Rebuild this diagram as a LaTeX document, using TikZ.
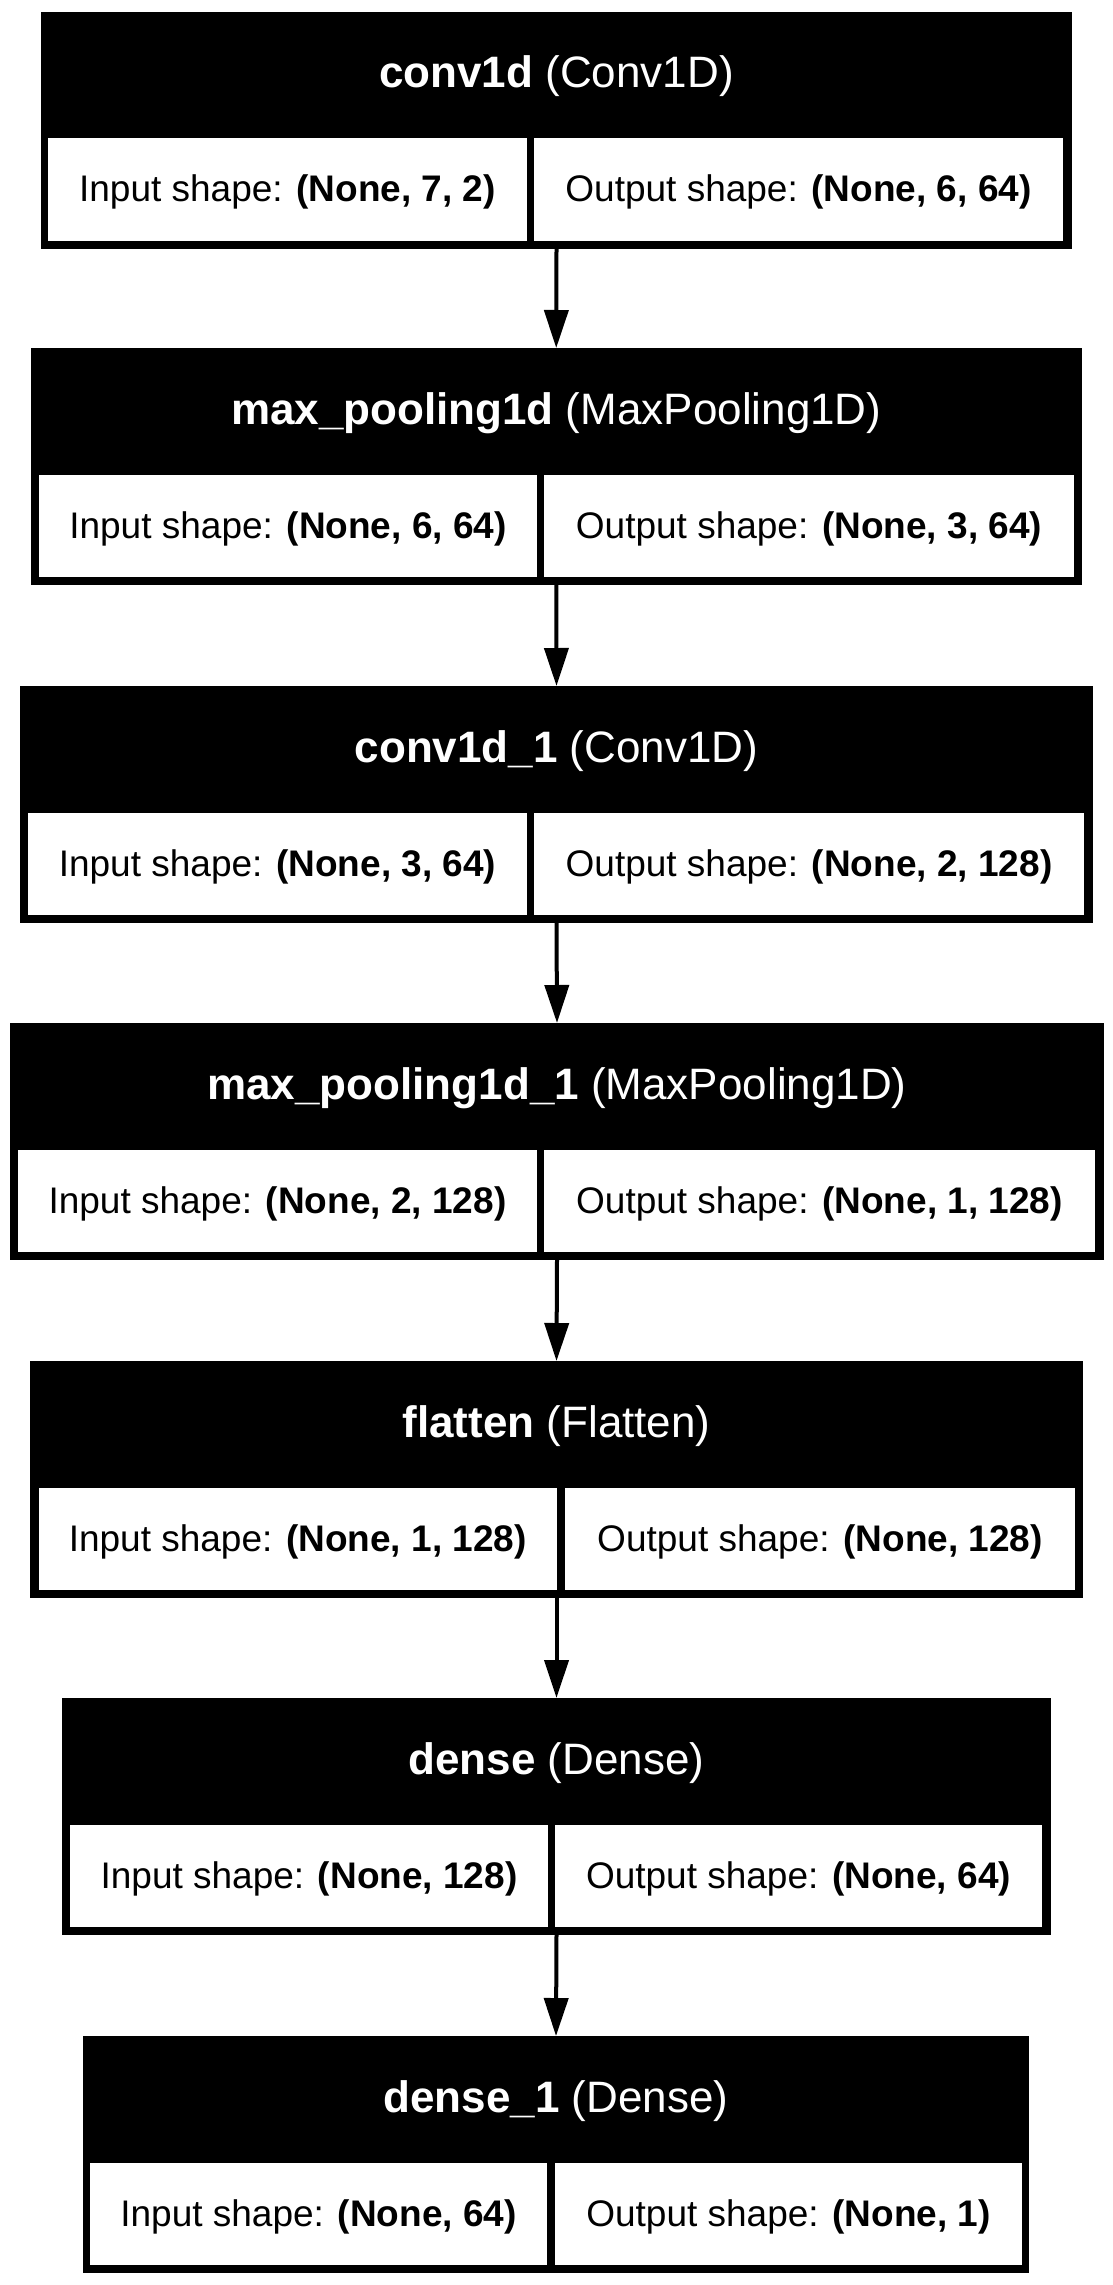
\documentclass[tikz,border=0pt]{standalone}
\usepackage{fontspec}
\setmainfont{Liberation Sans}
\usetikzlibrary{arrows.meta}
\tikzset{
  layerbox/.style={rectangle, fill=black, inner sep=0pt, outer sep=0pt},
  cellbox/.style={rectangle, fill=white, inner sep=0pt, outer sep=0pt},
  txt/.style={inner sep=0pt, anchor=base, font=\fontsize{37}{44}\selectfont},
  headtxt/.style={inner sep=0pt, anchor=base, text=white, font=\fontsize{44}{52}\selectfont},
  flow/.style={line width=4pt, -{Triangle[length=38pt,width=24pt]}},
}
% #1 name, #2 top, #3/#4 outer left/right, #5/#6 input cell, #7/#8 output cell, #9 header
\newcommand\mylayer[9]{%
  \node[layerbox, minimum width={#4pt-#3pt}, minimum height=237pt] (#1) at ({(#3+#4)/2}, {#2+118.5}) {};
  \node[cellbox, minimum width={#6pt-#5pt}, minimum height=102.5pt] (#1in) at ({(#5+#6)/2}, {#2+177.75}) {};
  \node[cellbox, minimum width={#8pt-#7pt}, minimum height=102.5pt] (#1out) at ({(#7+#8)/2}, {#2+177.75}) {};
  \node[headtxt] (#1head) at ([yshift=42.5pt]#1.center) {#9};
}
\newcommand\mycells[3]{%
  \node[txt] (#1intxt) at ([yshift=-12.25pt]#1in.center) {Input shape: \textbf{#2}};
  \node[txt] (#1outtxt) at ([yshift=-12.25pt]#1out.center) {Output shape: \textbf{#3}};
}
\begin{document}
\begin{tikzpicture}[x=1pt, y=-1pt]
\fill[white] (0,0) rectangle (1113,2285);
\useasboundingbox (0,0) rectangle (1113,2285);

\mylayer{b1}{12}{41}{1072}{48}{527}{534}{1063}{\textbf{conv1d} (Conv1D)}
\mycells{b1}{(None, 7, 2)}{(None, 6, 64)}

\mylayer{b2}{348}{30.5}{1082}{39}{537}{544}{1074}{\textbf{max\_pooling1d} (MaxPooling1D)}
\mycells{b2}{(None, 6, 64)}{(None, 3, 64)}

\mylayer{b3}{686}{20}{1093}{28}{527}{534}{1084}{\textbf{conv1d\_1} (Conv1D)}
\mycells{b3}{(None, 3, 64)}{(None, 2, 128)}

\mylayer{b4}{1023}{10}{1104}{18}{537}{544}{1095}{\textbf{max\_pooling1d\_1} (MaxPooling1D)}
\mycells{b4}{(None, 2, 128)}{(None, 1, 128)}

\mylayer{b5}{1361}{30}{1083}{38.5}{557}{565}{1075}{\textbf{flatten} (Flatten)}
\mycells{b5}{(None, 1, 128)}{(None, 128)}

\mylayer{b6}{1698}{62}{1051}{70}{548}{555}{1042}{\textbf{dense} (Dense)}
\mycells{b6}{(None, 128)}{(None, 64)}

\mylayer{b7}{2036}{83}{1029}{90}{547}{555}{1022}{\textbf{dense\_1} (Dense)}
\mycells{b7}{(None, 64)}{(None, 1)}

\draw[flow] (b1.south) -- (b2.north);
\draw[flow] (b2.south) -- (b3.north);
\draw[flow] (b3.south) -- (b4.north);
\draw[flow] (b4.south) -- (b5.north);
\draw[flow] (b5.south) -- (b6.north);
\draw[flow] (b6.south) -- (b7.north);
\end{tikzpicture}
\end{document}
